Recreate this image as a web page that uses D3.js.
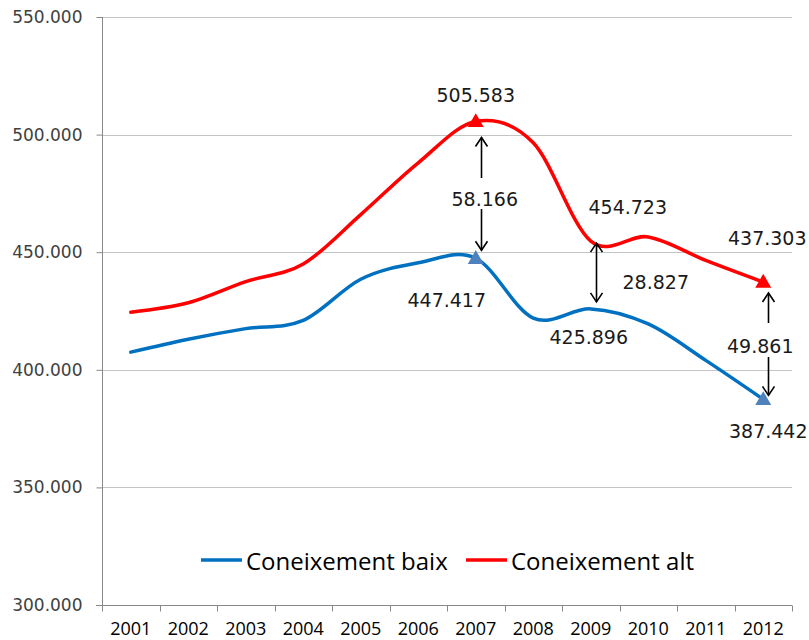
<!DOCTYPE html>
<html lang="ca">
<head>
    <meta charset="UTF-8">
    <script src="https://d3js.org/d3.v7.min.js"></script>
    <style>
        body { margin: 0; background: #fff; }
        .ytick text { font-family: "DejaVu Sans", Verdana, sans-serif; font-size: 17px; fill: #404040; }
        .xtick text { font-family: "Open Sans", sans-serif; font-size: 18px; fill: #000; }
        .val { font-family: "DejaVu Sans", Verdana, sans-serif; font-size: 19px; fill: #1a1a1a; }
        .legend text { font-family: "Open Sans", sans-serif; font-size: 24px; fill: #000; }
    </style>
</head>
<body>
<div id="chart"></div>
<script>
    // data
    var years = [2001, 2002, 2003, 2004, 2005, 2006, 2007, 2008, 2009, 2010, 2011, 2012];
    var baix = [407500, 413000, 417500, 421000, 438500, 445500, 447417, 422000, 425896, 419500, 404000, 387442];
    var alt  = [424500, 428500, 437500, 445000, 466000, 488000, 505583, 496500, 454723, 456500, 446500, 437303];
    var yTicks = [300000, 350000, 400000, 450000, 500000, 550000];
    var seriesNames = ["Coneixement baix", "Coneixement alt"];
    var markerYears = [2007, 2012];
    var labelYears = [2007, 2009, 2012];

    var W = 809, H = 640;
    var plotL = 102, plotR = 792, plotT = 17, plotB = 605;
    var blue = "#0070C0", red = "#FF0000";

    var fmt = d3.formatLocale({ decimal: ",", thousands: ".", grouping: [3], currency: ["", "€"] }).format(",d");

    var svg = d3.select("#chart").append("svg")
        .attr("width", W).attr("height", H);

    var x = d3.scaleBand().domain(years).range([plotL, plotR]);
    var y = d3.scaleLinear().domain([300000, 550000]).range([plotB, plotT]);
    var cx = function(yr) { return x(yr) + x.bandwidth() / 2; };

    // gridlines
    svg.append("g").selectAll("line").data(yTicks).enter().append("line")
        .attr("x1", plotL).attr("x2", plotR)
        .attr("y1", d => Math.round(y(d)) + 0.5).attr("y2", d => Math.round(y(d)) + 0.5)
        .attr("stroke", "#c4c4c4").attr("stroke-width", 1);

    // y axis
    var yAxis = svg.append("g").attr("class", "ytick")
        .attr("transform", "translate(" + (plotL + 0.5) + ",0)")
        .call(d3.axisLeft(y).tickValues(yTicks).tickFormat(fmt).tickSize(6).tickPadding(14));
    yAxis.selectAll("path, line").attr("stroke", "#888");
    yAxis.select("path").attr("d", "M0," + plotT + "V" + plotB);

    // x axis with ticks on band edges
    var xAxis = svg.append("g").attr("class", "xtick")
        .attr("transform", "translate(0," + (Math.round(plotB) + 0.5) + ")")
        .call(d3.axisBottom(x).tickSize(0).tickPadding(17));
    xAxis.select("path").attr("stroke", "#888").attr("d", "M" + (plotL - 6) + ",0H" + plotR);
    xAxis.selectAll(".tick text").attr("dy", "0.71em");
    var edges = years.map(d => x(d)).concat([plotR]);
    xAxis.selectAll(".edge").data(edges).enter().append("line")
        .attr("x1", d => Math.round(d) + 0.5).attr("x2", d => Math.round(d) + 0.5)
        .attr("y1", 0).attr("y2", 6).attr("stroke", "#888");

    // lines
    var line = d3.line().x((d, i) => cx(years[i])).y(d => y(d)).curve(d3.curveCardinal.tension(0));
    svg.append("path").datum(alt).attr("d", line).attr("fill", "none")
        .attr("stroke", red).attr("stroke-width", 3.5).attr("stroke-linecap", "round");
    svg.append("path").datum(baix).attr("d", line).attr("fill", "none")
        .attr("stroke", blue).attr("stroke-width", 3.5).attr("stroke-linecap", "round");

    // triangle markers
    var tri = d3.symbol().type(d3.symbolTriangle).size(110);
    function markers(vals, col) {
        svg.append("g").selectAll("path").data(markerYears).enter().append("path")
            .attr("d", tri)
            .attr("transform", d => "translate(" + cx(d) + "," + (y(vals[years.indexOf(d)]) + 1) + ")")
            .attr("fill", col);
    }
    markers(alt, red);
    markers(baix, "#4F81BD");

    // value labels (offsets from point)
    var altOff = { 2007: [0, -26], 2009: [37, -34], 2012: [4, -44] };
    var baixOff = { 2007: [-29, 42], 2009: [-2, 28], 2012: [5, 32] };
    function valLabels(vals, off) {
        svg.append("g").selectAll("text").data(labelYears).enter().append("text")
            .attr("class", "val")
            .attr("x", d => cx(d) + off[d][0])
            .attr("y", d => y(vals[years.indexOf(d)]) + off[d][1])
            .attr("text-anchor", "middle").attr("dominant-baseline", "central")
            .text(d => fmt(vals[years.indexOf(d)]));
    }
    valLabels(alt, altOff);
    valLabels(baix, baixOff);

    // difference arrows
    var arrowSpec = {
        2007: { t: 16, b: -8, gap: [178, 209], lab: [9, 9] },
        2009: { t: 2, b: -7, gap: null, lab: [65, 7] },
        2012: { t: 11, b: -4, gap: [323, 357], lab: [-3, 5] }
    };
    var ag = svg.append("g").attr("stroke", "#000").attr("stroke-width", 1.6).attr("fill", "none");
    labelYears.forEach(function(yr) {
        var i = years.indexOf(yr), s = arrowSpec[yr];
        var ax = Math.round(cx(yr) + 5) + 0.5;
        var y1 = y(alt[i]) + s.t, y2 = y(baix[i]) + s.b;
        if (s.gap) {
            ag.append("line").attr("x1", ax).attr("x2", ax).attr("y1", y1).attr("y2", s.gap[0]);
            ag.append("line").attr("x1", ax).attr("x2", ax).attr("y1", s.gap[1]).attr("y2", y2);
        } else {
            ag.append("line").attr("x1", ax).attr("x2", ax).attr("y1", y1).attr("y2", y2);
        }
        ag.append("path").attr("d", "M" + (ax - 6) + "," + (y1 + 9) + "L" + ax + "," + y1 + "L" + (ax + 6) + "," + (y1 + 9));
        ag.append("path").attr("d", "M" + (ax - 6) + "," + (y2 - 9) + "L" + ax + "," + y2 + "L" + (ax + 6) + "," + (y2 - 9));
        svg.append("text").attr("class", "val")
            .attr("x", cx(yr) + s.lab[0])
            .attr("y", (y(alt[i]) + y(baix[i])) / 2 + s.lab[1])
            .attr("text-anchor", "middle").attr("dominant-baseline", "central")
            .text(fmt(alt[i] - baix[i]));
    });

    // legend
    var lg = svg.append("g").attr("class", "legend").attr("transform", "translate(201,560)");
    var items = [{ name: seriesNames[0], col: blue, x: 0 }, { name: seriesNames[1], col: red, x: 265 }];
    items.forEach(function(it) {
        lg.append("line").attr("x1", it.x).attr("x2", it.x + 41).attr("y1", 0).attr("y2", 0)
            .attr("stroke", it.col).attr("stroke-width", 3.5);
        lg.append("text").attr("x", it.x + 45).attr("y", 0).attr("dominant-baseline", "central").text(it.name);
    });
</script>
</body>
</html>
